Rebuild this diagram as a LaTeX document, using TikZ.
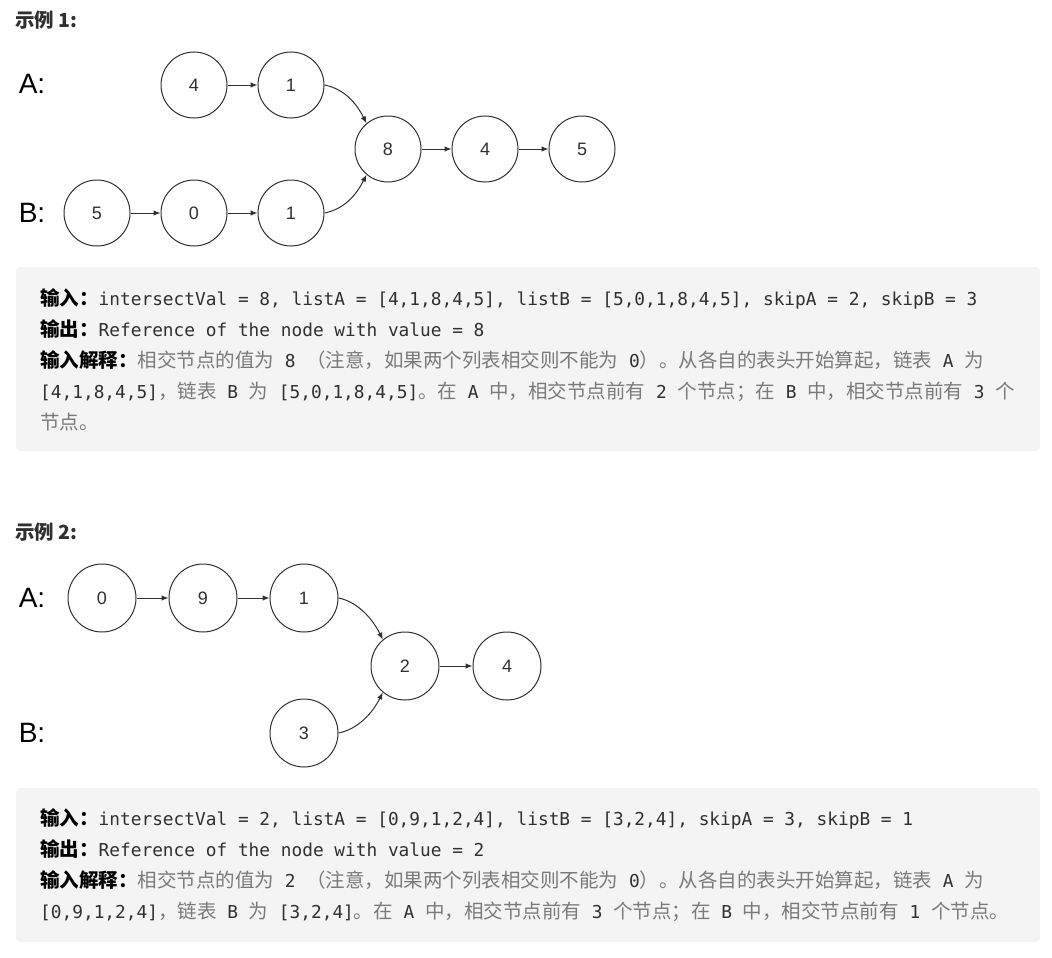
\documentclass[tikz,border=0pt]{standalone}
\usepackage{fontspec}
\setmainfont{Liberation Sans}
\setmonofont{DejaVu Sans Mono}
\newfontfamily\cjk{Noto Sans CJK SC}
\usetikzlibrary{arrows.meta}

\definecolor{boxgray}{HTML}{F4F4F4}
\definecolor{zhgray}{HTML}{7A7A7A}
\definecolor{ink}{HTML}{303030}

\newcommand{\zh}[1]{{\cjk\fontsize{19.5}{22}\selectfont\color{zhgray}#1}}
\newcommand{\zhb}[1]{{\cjk\bfseries\fontsize{19.5}{22}\selectfont\color{black}#1}}

\begin{document}
\begin{tikzpicture}[>={Latex[length=7pt,width=5.5pt]},x=1pt,y=-1pt,
	listnode/.style={circle,draw=ink,line width=1pt,minimum size=66pt,inner sep=0pt,text=ink,font=\fontsize{18}{18}\selectfont},
	link/.style={->,draw=ink,line width=1pt},
	tag/.style={font=\fontsize{28}{28}\selectfont,text=black},
	title/.style={anchor=west,inner sep=0pt,text=ink,font=\cjk\bfseries\fontsize{19.5}{19.5}\selectfont},
	code/.style={anchor=base west,inner sep=0pt,text=ink,font=\ttfamily\fontsize{17.8}{20}\selectfont}]
	\useasboundingbox (0,0) rectangle (1052,958);

	% example 1
	\node[title] (t1) at (15,20) {示例 1:};
	\node[tag] (la1) at (32,84) {A:};
	\node[tag] (lb1) at (32,213) {B:};

	\node[listnode] (a1) at (194,85) {4};
	\node[listnode] (a2) at (291,85) {1};
	\node[listnode] (c1) at (388,149) {8};% intersection
	\node[listnode] (c2) at (485,149) {4};
	\node[listnode] (c3) at (582,149) {5};
	\node[listnode] (b1) at (97,213) {5};
	\node[listnode] (b2) at (194,213) {0};
	\node[listnode] (b3) at (291,213) {1};

	\draw[link] (a1) -- (a2);
	\draw[link] (c1) -- (c2);
	\draw[link] (c2) -- (c3);
	\draw[link] (b1) -- (b2);
	\draw[link] (b2) -- (b3);
	\draw[link] (a2.east) .. controls +(20,4) and +(-10,-20) .. (c1.130);
	\draw[link] (b3.east) .. controls +(20,-4) and +(-10,20) .. (c1.230);

	\fill[boxgray,rounded corners=4pt] (16,267) rectangle (1040,451);
	\node[code] (i1) at (40,305.5) {\zhb{输入：}intersectVal = 8, listA = [4,1,8,4,5], listB = [5,0,1,8,4,5], skipA = 2, skipB = 3};
	\node[code] (o1) at (40,336.5) {\zhb{输出：}Reference of the node with value = 8};
	\node[code] (e1) at (40,367.5) {\zhb{输入解释：}\zh{相交节点的值为} 8 \zh{（注意，如果两个列表相交则不能为} 0\zh{）。从各自的表头开始算起，链表} A \zh{为}};
	\node[code] (f1) at (40,398.5) {[4,1,8,4,5]\zh{，链表} B \zh{为} [5,0,1,8,4,5]\zh{。在} A \zh{中，相交节点前有} 2 \zh{个节点；在} B \zh{中，相交节点前有} 3 \zh{个}};
	\node[code] (g1) at (40,429.5) {\zh{节点。}};

	% example 2
	\node[title] (t2) at (15,532) {示例 2:};
	\node[tag] (la2) at (32,598) {A:};
	\node[tag] (lb2) at (32,733) {B:};

	\node[listnode,minimum size=68pt] (p1) at (102,598) {0};
	\node[listnode,minimum size=68pt] (p2) at (203,598) {9};
	\node[listnode,minimum size=68pt] (p3) at (304,598) {1};
	\node[listnode,minimum size=68pt] (m1) at (405,666) {2};% intersection
	\node[listnode,minimum size=68pt] (m2) at (507,666) {4};
	\node[listnode,minimum size=68pt] (q1) at (304,733) {3};

	\draw[link] (p1) -- (p2);
	\draw[link] (p2) -- (p3);
	\draw[link] (m1) -- (m2);
	\draw[link] (p3.east) .. controls +(20,4) and +(-10,-20) .. (m1.130);
	\draw[link] (q1.east) .. controls +(20,-4) and +(-10,20) .. (m1.230);

	\fill[boxgray,rounded corners=4pt] (16,788) rectangle (1040,942);
	\node[code] (i2) at (40,825.5) {\zhb{输入：}intersectVal = 2, listA = [0,9,1,2,4], listB = [3,2,4], skipA = 3, skipB = 1};
	\node[code] (o2) at (40,856.5) {\zhb{输出：}Reference of the node with value = 2};
	\node[code] (e2) at (40,887.5) {\zhb{输入解释：}\zh{相交节点的值为} 2 \zh{（注意，如果两个列表相交则不能为} 0\zh{）。从各自的表头开始算起，链表} A \zh{为}};
	\node[code] (f2) at (40,918.5) {[0,9,1,2,4]\zh{，链表} B \zh{为} [3,2,4]\zh{。在} A \zh{中，相交节点前有} 3 \zh{个节点；在} B \zh{中，相交节点前有} 1 \zh{个节点。}};

\end{tikzpicture}
\end{document}
